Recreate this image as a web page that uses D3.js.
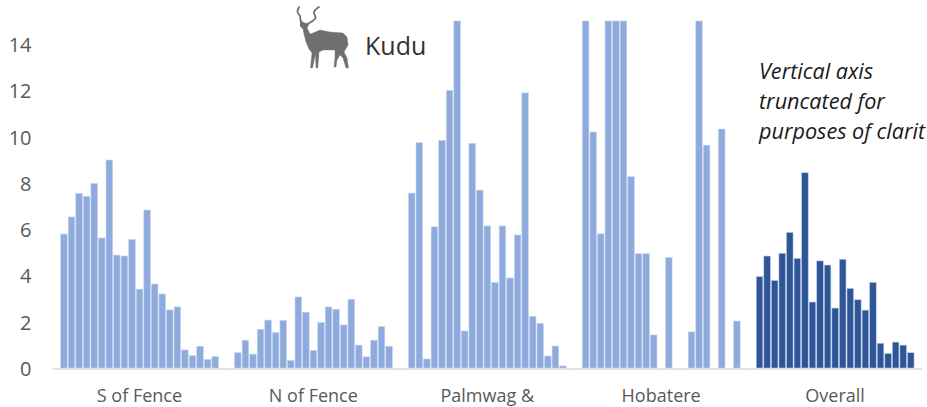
<!DOCTYPE html>
<html><head><meta charset="utf-8">
<script src="https://cdn.jsdelivr.net/npm/d3@7"></script>
<style>html,body{margin:0;padding:0;background:#fff;overflow:hidden}svg{display:block}</style>
</head><body><svg id="c" width="927" height="407"></svg>
<script>
const categories = ["S of Fence","N of Fence","Palmwag &","Hobatere","Overall"];
const sOfFence = [5.79,6.53,7.55,7.42,7.98,5.62,8.99,4.88,4.84,5.56,3.41,6.83,3.63,3.2,2.51,2.64,0.78,0.53,0.94,0.37,0.49];
const nOfFence = [0.66,1.2,0.6,1.67,2.07,1.53,2.06,0.33,3.07,2.41,0.76,1.97,2.64,2.54,1.86,2.97,0.99,0.48,1.2,1.79,0.94];
const palmwag = [7.56,9.74,0.39,6.1,9.84,12.0,15,1.6,9.71,7.69,6.14,3.7,6.14,3.89,5.75,11.89,2.23,1.93,0.52,0.95,0.09];
const hobatere = [15,10.2,5.8,15,15,15,8.27,4.94,4.94,1.43,0,4.78,0,0,1.56,15,9.63,0,10.33,0,2.03];
const overall = [3.95,4.84,3.78,4.96,5.86,4.74,8.44,2.85,4.63,4.45,2.59,4.7,3.44,2.95,2.5,3.7,1.07,0.62,1.12,0.99,0.66];
const seriesValues = [sOfFence,nOfFence,palmwag,hobatere,overall];
const yTicks = [0,2,4,6,8,10,12,14];
const noteLines = ["Vertical axis","truncated for","purposes of clarit"];

const svg = d3.select("#c");
const y = d3.scaleLinear().domain([0,15]).range([368,21]);
const x0 = d3.scaleBand().domain(categories).range([52.5,922]);
const slots = d3.range(23);
const x1 = d3.scaleBand().domain(slots).range([0,x0.bandwidth()]);

const FONT = "'Open Sans',sans-serif";
// bars
categories.forEach((c,i)=>{
  const g = svg.append("g").attr("transform",`translate(${x0(c)},0)`);
  g.selectAll("rect").data(seriesValues[i].map((v,j)=>({v,j})).filter(d=>d.v>0)).join("rect")
    .attr("x",d=>x1(d.j+1)+0.6)
    .attr("width",x1.bandwidth()-1.0)
    .attr("y",d=>y(d.v))
    .attr("height",d=>y(0)-y(d.v))
    .attr("fill", i===4 ? "#2f5597" : "#8faadc")
    .attr("stroke", i===4 ? "#b4c7e7" : "#c5d4ee")
    .attr("stroke-width",0.6);
});
// axes
const yAxis = d3.axisLeft(y).tickValues(yTicks).tickSize(0).tickPadding(0);
const ya = svg.append("g").attr("transform","translate(31.5,1)").call(yAxis);
ya.select(".domain").remove();
ya.selectAll("text").attr("font-family",FONT).attr("font-size",20).attr("fill","#595959");
const xAxis = d3.axisBottom(x0).tickSize(0).tickPadding(0);
const xa = svg.append("g").attr("transform","translate(0,368)").call(xAxis);
xa.select(".domain").remove();
xa.selectAll("text").attr("y",21).attr("font-family",FONT).attr("font-size",18).attr("fill","#595959");
svg.append("line").attr("x1",x0.range()[0]).attr("x2",x0.range()[1]).attr("y1",y(0)+1).attr("y2",y(0)+1)
  .attr("stroke","#d9d9d9").attr("stroke-width",1.6);
// title
svg.append("text").attr("x",365).attr("y",55).attr("font-family",FONT).attr("font-size",25).attr("fill","#333").text("Kudu");
// note
svg.append("g").selectAll("text").data(noteLines).join("text")
  .attr("x",759).attr("y",(d,i)=>79+i*30)
  .attr("font-family",FONT).attr("font-style","italic").attr("font-size",21.6).attr("fill","#1a1a1a").text(d=>d);
// kudu icon
const icon = svg.append("g").attr("fill","none").attr("stroke","#6f6f6f").attr("stroke-linecap","round").attr("stroke-linejoin","round");
const smooth = d3.line().curve(d3.curveCatmullRom);
icon.append("path").attr("stroke-width",1.8).attr("d",smooth([[299,7],[297.5,12],[300,16],[300.5,20],[303,24]]));
icon.append("path").attr("stroke-width",1.8).attr("d",smooth([[319,7],[314,12],[315.5,18],[311,22],[306,25]]));
icon.append("path").attr("fill","#6f6f6f").attr("stroke-width",0.4).attr("d",smooth.curve(d3.curveLinear)([
 [300,21],[305,23],[309,24],[307,28],[310,34],[313,33],[320,30],[330,32],[343,33],[347,37],[348,45],[344,52],[347,58],[348.5,68],[346,68],[343,58],[340,55],[337,60],[336,67],[334,67],[335,57],[335,50],[323,50],[319,52],[317.8,68],[316,68],[315.5,54],[312.5,68],[310.5,68],[312,53],[309,49],[306,42],[304,34],[303,29],[300,26]]));
</script></body></html>
